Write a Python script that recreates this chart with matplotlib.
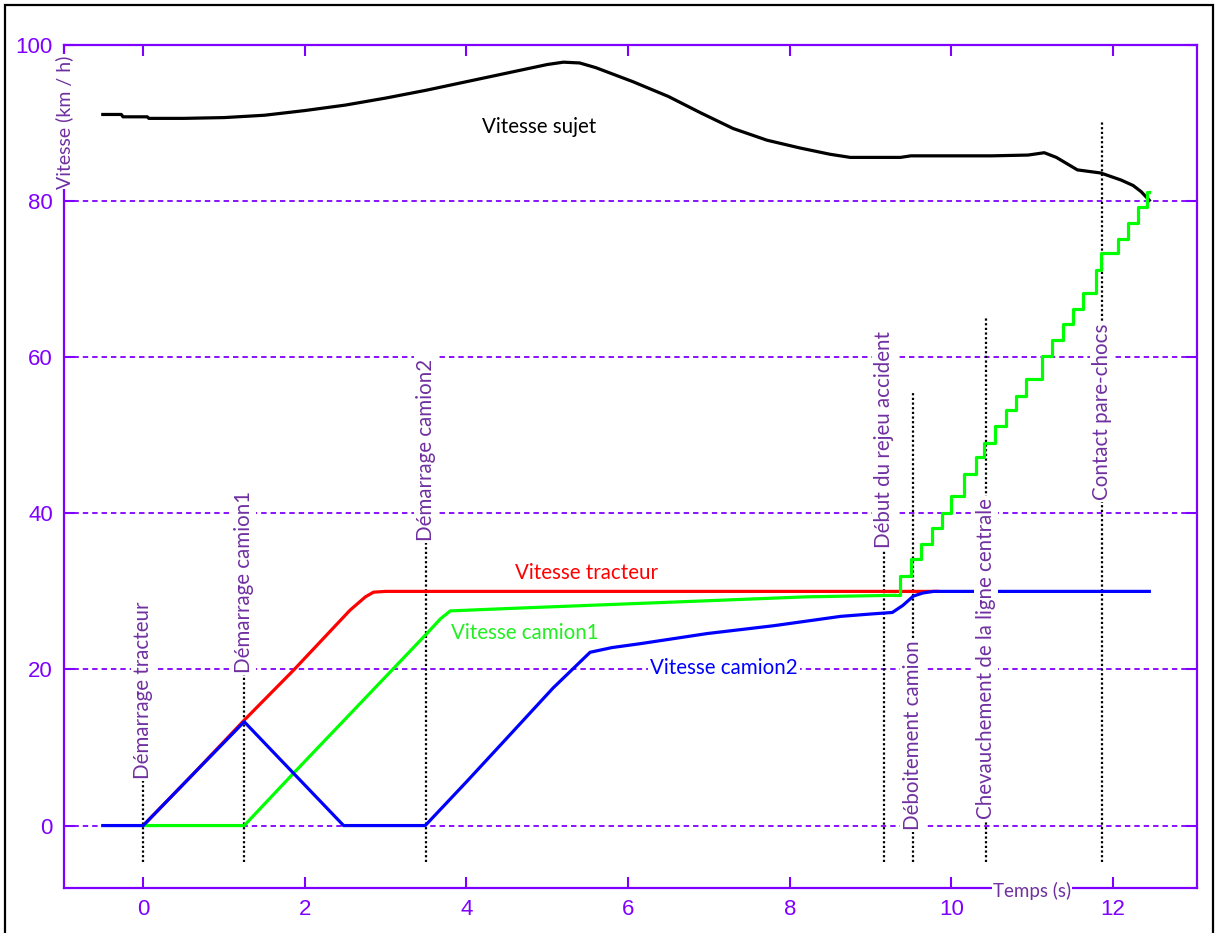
import numpy as np
import matplotlib.pyplot as plt
from matplotlib.patches import Rectangle

# Vitesse sujet (noir)
t_sujet = [-0.5, -0.27, -0.25, 0.05, 0.07, 0.5, 1.0, 1.5, 2.0, 2.5, 3.0, 3.5, 4.0, 4.5,
           5.0, 5.2, 5.4, 5.6, 6.06, 6.5, 6.9, 7.3, 7.72, 8.13, 8.5, 8.75, 9.37, 9.5,
           10.0, 10.5, 10.95, 11.15, 11.3, 11.56, 11.85, 12.1, 12.25, 12.35, 12.45]
v_sujet = [91.1, 91.1, 90.8, 90.8, 90.6, 90.6, 90.7, 91.0, 91.6, 92.3, 93.2, 94.2, 95.3, 96.4,
           97.5, 97.8, 97.7, 97.1, 95.3, 93.4, 91.3, 89.3, 87.8, 86.8, 86.0, 85.6, 85.6, 85.8,
           85.8, 85.8, 85.9, 86.2, 85.6, 84.0, 83.6, 82.7, 82.0, 81.2, 80.1]

# Vitesse tracteur (rouge)
t_tract = [0, 0.6, 1.25, 1.86, 2.56, 2.75, 2.85, 3.0, 9.83]
v_tract = [0, 6.4, 13.5, 19.9, 27.6, 29.3, 29.9, 30.0, 30.0]

# Vitesse camion1 (vert)
t_cam1 = [0, 1.25, 1.86, 3.51, 3.68, 3.8, 4.5, 5.74, 6.98, 8.2, 9.3]
v_cam1 = [0, 0, 6.7, 24.6, 26.5, 27.5, 27.8, 28.3, 28.8, 29.3, 29.5]
# marches d'escalier apres le debut du rejeu
t_steps = [9.3, 9.36, 9.5, 9.63, 9.76, 9.88, 10.0, 10.16, 10.31, 10.41, 10.54, 10.68,
           10.8, 10.92, 11.12, 11.24, 11.38, 11.5, 11.63, 11.79, 11.85, 12.06, 12.19,
           12.31, 12.42, 12.45]
v_steps = [29.5, 32.0, 34.1, 36.1, 38.1, 40.0, 42.2, 45.1, 47.2, 49.0, 51.2, 53.3,
           55.0, 57.2, 60.1, 62.2, 64.2, 66.2, 68.2, 71.2, 73.3, 75.1, 77.2,
           79.2, 81.2, 81.2]

# Vitesse camion2 (bleu)
t_cam2 = [-0.5, 0, 0.6, 1.25, 1.86, 2.48, 3.49, 4.0, 4.5, 5.07, 5.32, 5.53, 5.8, 6.15,
          6.98, 7.8, 8.63, 9.0, 9.27, 9.4, 9.53, 9.65, 9.78, 12.45]
v_cam2 = [0, 0, 6.4, 13.3, 6.7, 0, 0, 5.6, 11.2, 17.6, 20.1, 22.2, 22.8, 23.3,
          24.6, 25.6, 26.8, 27.1, 27.3, 28.2, 29.4, 29.8, 30.0, 30.0]

# Evenements
ev_x = [0, 1.25, 3.5, 9.17, 9.52, 10.43, 11.87]
ev_top = [6.0, 19.6, 36.5, 35.5, 55.4, 65.1, 90.4]
ev_text_y = [6.0, 19.6, 36.5, 35.5, -0.6, 0.9, 41.7]
ev_labels = ['Démarrage tracteur', 'Démarrage camion1', 'Démarrage camion2',
             'Début du rejeu accident', 'Déboitement camion',
             'Chevauchement de la ligne centrale', 'Contact pare-chocs']

x_ticks = [0, 2, 4, 6, 8, 10, 12]
y_ticks = [0, 20, 40, 60, 80, 100]
grid_y = [0, 20, 40, 60, 80]

AXC = '#7F00FF'
TXC = '#7030A0'
LBL = ['Lato', 'DejaVu Sans']

fig = plt.figure(figsize=(12.18, 9.33), dpi=100)
ax = fig.add_axes([64 / 1218, 1 - 888 / 933, 1133 / 1218, 843 / 933])
ax.set_xlim(-0.98, 13.04)
ax.set_ylim(-8, 100)

for g in grid_y:
    ax.axhline(g, color=AXC, lw=1.3, ls=(0, (3, 2.2)), zorder=1)

for x, top in zip(ev_x, ev_top):
    ax.plot([x, x], [-4.7, top], color='black', lw=1.6, ls=(0, (1, 1.1)), zorder=2)

ax.plot(t_sujet, v_sujet, color='black', lw=2.3, zorder=3)
ax.plot(t_tract, v_tract, color='#FF0000', lw=2.3, zorder=3)
ax.plot(t_cam1, v_cam1, color='#00FF00', lw=2.3, zorder=3)
ax.plot(t_steps, v_steps, color='#00FF00', lw=2.3, drawstyle='steps-post', zorder=3)
ax.plot(t_cam2, v_cam2, color='#0000FF', lw=2.3, zorder=3.5)

box = dict(facecolor='white', edgecolor='none', pad=1.5)
for x, y, s in zip(ev_x, ev_text_y, ev_labels):
    ax.text(x, y, s, rotation=90, ha='center', va='bottom', fontsize=14.8,
            color=TXC, family=LBL, bbox=box, zorder=5)

ax.text(4.9, 89.5, 'Vitesse sujet', color='black', fontsize=14.8, family=LBL,
        ha='center', va='center', zorder=5)
ax.text(5.48, 32.3, 'Vitesse tracteur', color='#FF0000', fontsize=14.8, family=LBL,
        ha='center', va='center', zorder=5)
ax.text(4.72, 24.7, 'Vitesse camion1', color='#22EE22', fontsize=14.8, family=LBL,
        ha='center', va='center', zorder=5)
ax.text(7.19, 20.2, 'Vitesse camion2', color='#0000FF', fontsize=14.8, family=LBL,
        ha='center', va='center', bbox=box, zorder=5)

ax.text(-0.98, 98.7, 'Vitesse (km / h)', rotation=90, ha='center', va='top', fontsize=14,
        color=TXC, family=LBL, bbox=dict(facecolor='white', edgecolor='none', pad=0.5),
        zorder=5, clip_on=False)
ax.text(11.0, -8.4, 'Temps (s)', ha='center', va='center', fontsize=13.5,
        color=TXC, family=LBL, bbox=dict(facecolor='white', edgecolor='none', pad=0.5),
        zorder=5, clip_on=False)

ax.set_xticks(x_ticks)
ax.set_yticks(y_ticks)
ax.tick_params(direction='in', length=8, width=1.5, color=AXC, labelcolor=AXC,
               labelsize=16, pad=8, top=True, right=True)
for lab in ax.get_xticklabels() + ax.get_yticklabels():
    lab.set_family('Liberation Sans')
for sp in ax.spines.values():
    sp.set_color(AXC)
    sp.set_linewidth(1.6)

fig.patches.append(Rectangle((5 / 1218, -0.02), 1208 / 1218, 1.02 - 5 / 933,
                             transform=fig.transFigure, fill=False,
                             edgecolor='black', lw=1.6))

fig.savefig('out.png', dpi=100)
